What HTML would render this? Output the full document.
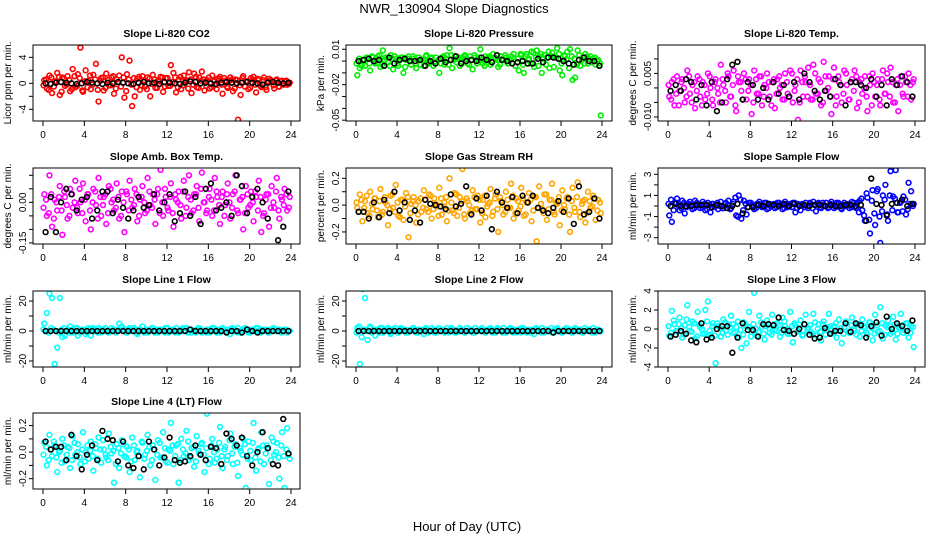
<!DOCTYPE html>
<html><head><meta charset="utf-8"><style>
html,body{margin:0;padding:0;background:#fff}
svg{display:block;font-family:"Liberation Sans",sans-serif}
</style></head><body>
<svg id="chart" width="936" height="540" viewBox="0 0 936 540">
<text x="454" y="13" font-size="13" text-anchor="middle">NWR_130904  Slope Diagnostics</text>
<text x="467" y="531" font-size="13" text-anchor="middle">Hour of Day (UTC)</text>
</svg>
<script>
const hourTicks=[0,4,8,12,16,20,24];
const co2Color=[0.5,-0.8,1.2,-1.5,0.3,1.6,-1.8,0.9,-0.4,1.1,-1.2,2.2,-0.6,1.4,5.5,-1.3,2.0,0.4,-0.9,1.3,3.0,-2.8,0.8,-1.1,1.5,-0.3,0.9,-1.6,0.6,1.2,4.0,-2.2,1.4,3.5,-3.5,-2.0,0.7,-1.0,1.1,-0.5,0.9,-2.0,1.3,-0.7,0.4,1.0,-1.3,0.8,-0.4,2.8,1.6,-1.4,0.6,-0.9,1.2,0.3,1.7,-1.5,1.5,-0.6,0.9,1.8,-1.1,0.5,-0.8,1.2,-0.3,0.7,1.0,-1.6,0.4,-0.7,0.9,-1.2,0.6,-5.6,-1.8,1.1,0.3,-0.9,0.8,1.0,-1.4,0.5,-0.6,0.9,-1.0,0.7,0.2,-0.8,0.6,-0.5,0.4,0.3,-0.2,0.1];
const co2Color2=[-0.3,0.6,-1.0,0.9,-0.5,0.2,1.0,-1.3,0.7,-0.2,0.5,-0.9,1.1,-0.4,0.8,-1.1,0.3,-0.6,1.2,-0.2,0.6,-1.0,0.4,0.9,-0.7,0.5,-0.3,1.1,-0.8,0.2,-0.5,0.9,-1.2,0.6,-0.2,0.8,-0.6,1.0,-0.3,0.5,-0.9,0.7,-0.1,0.6,-0.7,0.3,0.9,-0.5,0.8,-0.4,0.2,0.9,-0.6,1.0,-0.3,0.5,-0.8,0.6,-0.2,1.0,-0.7,0.4,0.6,-0.4,0.9,-0.6,0.3,-0.9,0.7,-0.2,0.8,-0.5,0.4,0.6,-0.8,0.5,-0.3,0.8,-0.5,0.3,-0.7,0.6,-0.2,0.7,-0.4,0.5,-0.6,0.3,0.5,-0.3,0.4,-0.5,0.3,-0.2,0.4,-0.1];
const co2Black=[0,-0.1,0.1,0.2,0.1,0,-0.1,0,0.2,0.1,0,-0.1,0.1,0,0.2,0.1,0,-0.1,0.1,0.2,0,0.1,-0.1,0.2,0.1,0,-0.1,0.1,0.3,0.2,0,0.1,0,-0.1,0.1,0.2,0.1,0,0.1,0.2,0.1,0,-0.2,0.1,0.2,0.1,0,0.1];
const presColor=[-0.012,-0.006,0.001,-0.004,0.002,-0.008,0.003,-0.002,0.004,-0.005,0.009,0.003,-0.001,0.005,-0.007,0.002,-0.004,0.003,-0.010,0.001,0.004,-0.003,0.002,-0.006,0.003,0.001,-0.004,0.005,-0.002,0.003,-0.001,-0.058,-0.010,0.003,-0.003,0.005,0.011,-0.006,0.004,0.002,-0.004,0.003,0.005,-0.002,0.004,-0.007,0.003,0.001,0.010,-0.002,0.004,0.003,-0.003,0.006,0.002,-0.005,0.004,0.001,0.003,-0.002,0.004,0.006,-0.060,-0.008,0.005,-0.010,0.006,0.002,0.008,-0.005,0.009,0.004,-0.010,0.005,0.003,-0.006,0.007,0.003,0.011,-0.008,-0.012,0.004,0.008,0.010,-0.016,-0.014,0.009,-0.004,0.003,0.006,-0.002,0.004,0.002,-0.003,0.001,-0.046];
const presColor2=[-0.002,0.002,-0.004,0.001,0.003,-0.002,0.004,-0.001,0.002,0.005,-0.003,0.001,0.003,-0.004,0.002,0.004,-0.002,0.001,0.003,-0.005,0.002,0.000,0.004,-0.002,0.003,-0.003,0.001,0.004,-0.001,0.002,-0.004,0.003,0.001,-0.002,0.004,0.002,-0.003,0.005,0.001,-0.001,0.003,-0.002,0.004,0.002,-0.003,0.001,0.005,-0.002,0.003,0.001,-0.004,0.002,0.004,-0.001,0.003,0.001,-0.003,0.002,0.005,-0.002,0.001,0.003,-0.004,0.002,0.006,-0.003,0.004,0.001,-0.002,0.007,0.003,-0.004,0.006,0.002,-0.003,0.008,0.004,-0.005,0.003,0.006,-0.002,0.005,0.001,-0.006,0.004,0.002,-0.003,0.005,0.001,-0.002,0.004,0.002,-0.001,0.003,0.000,-0.002];
const presBlack=[0,0.001,0.002,0,0.001,-0.004,0.003,-0.002,0.001,0.002,0,0,0.001,-0.004,0,-0.002,0.002,-0.001,0.001,0.004,-0.002,0,0.001,0,0.003,0.001,-0.001,0.005,0.001,0,-0.002,-0.001,0,-0.002,-0.002,0.002,-0.001,0.003,0.003,0.002,0,-0.002,-0.003,0.001,0.003,0,0,-0.004];
const tempColor=[-0.003,0.002,-0.006,0.004,-0.001,0.003,-0.005,0.006,-0.002,0.001,-0.007,0.004,-0.003,0.002,-0.004,0.005,0.000,-0.006,0.003,-0.002,0.008,0.001,-0.005,0.004,-0.003,0.006,-0.008,0.002,-0.001,0.005,-0.004,0.003,-0.009,0.006,-0.002,0.004,-0.006,0.001,0.005,-0.003,0.002,-0.007,0.003,0.000,-0.004,0.005,-0.002,0.006,-0.005,0.001,-0.011,0.006,-0.003,0.002,0.007,-0.004,0.008,-0.002,0.003,-0.006,0.009,-0.001,0.004,-0.009,0.007,-0.003,0.002,-0.005,0.006,0.001,-0.004,0.003,0.006,-0.007,0.002,-0.002,0.004,-0.008,0.001,0.005,-0.003,0.003,-0.006,0.006,-0.002,0.002,0.007,-0.005,0.001,-0.008,0.004,-0.003,0.002,0.005,-0.004,0.003];
const tempColor2=[0.001,-0.004,0.003,-0.002,-0.006,0.002,0.000,-0.003,0.004,-0.005,0.002,-0.001,0.003,-0.006,0.001,-0.002,0.004,-0.004,0.002,0.000,-0.005,0.003,-0.001,0.005,-0.003,0.001,-0.006,0.004,0.002,-0.004,0.003,-0.001,0.001,-0.005,0.003,-0.002,0.004,-0.003,0.000,0.002,-0.006,0.003,-0.002,0.004,0.001,-0.004,0.002,-0.003,0.005,-0.001,0.003,-0.005,0.002,0.004,-0.003,0.001,-0.004,0.005,-0.002,0.002,-0.005,0.004,0.000,-0.003,0.003,-0.006,0.004,0.001,-0.002,0.005,-0.004,0.002,-0.001,0.004,-0.005,0.003,0.000,-0.003,0.004,-0.006,0.002,0.001,-0.004,0.003,-0.002,0.005,-0.003,0.002,-0.005,0.003,0.001,-0.002,0.004,-0.003,0.001,0.002];
const tempBlack=[-0.001,0.001,-0.001,0.003,0.002,-0.004,0.001,-0.006,0.002,-0.008,-0.005,0.003,0.008,0.009,-0.004,0.002,0.001,-0.004,0,-0.004,0.002,-0.002,0.001,-0.003,0.002,-0.004,0.005,0.002,-0.001,-0.004,-0.001,-0.003,0.003,0.001,-0.006,0.002,0.002,0.001,0,0.003,-0.003,0.001,-0.006,0.003,0.001,0.004,0.002,-0.003];
const ambColor=[0.03,-0.05,0.10,-0.09,0.01,-0.03,0.06,-0.12,0.02,-0.06,0.05,-0.02,0.08,-0.04,0.00,0.07,-0.07,0.03,-0.10,0.05,-0.01,0.09,-0.05,0.02,-0.08,0.06,0.00,-0.03,0.07,-0.06,0.04,-0.11,0.03,0.08,-0.02,0.05,-0.07,0.01,0.06,-0.04,0.09,-0.01,0.03,-0.08,0.05,0.12,-0.05,0.02,-0.03,0.07,-0.09,0.01,0.04,-0.06,0.08,-0.02,0.10,-0.04,0.03,0.06,-0.07,0.11,0.00,-0.03,0.05,-0.05,0.09,0.02,-0.08,0.04,-0.01,0.07,-0.06,0.03,0.10,-0.04,0.01,-0.10,0.06,-0.02,0.04,-0.07,0.02,0.08,-0.11,-0.04,0.03,-0.09,0.06,-0.02,0.09,-0.06,0.01,0.05,-0.03,0.02];
const ambColor2=[-0.02,0.01,-0.04,0.03,-0.06,0.00,0.02,-0.03,0.04,-0.01,-0.05,0.03,0.00,-0.02,0.05,-0.04,0.01,0.03,-0.03,0.00,0.04,-0.06,0.02,-0.01,0.03,-0.04,0.05,0.01,-0.02,0.02,-0.05,0.00,0.04,-0.03,0.01,-0.01,0.03,-0.05,0.02,0.00,-0.03,0.04,-0.02,0.01,0.03,-0.04,0.00,0.05,-0.02,0.02,-0.04,0.03,0.00,-0.01,0.04,-0.05,0.02,0.01,-0.03,0.03,-0.02,0.05,0.00,-0.04,0.02,0.01,-0.03,0.04,-0.01,0.02,-0.05,0.03,0.00,-0.02,0.04,-0.03,0.01,0.02,-0.04,0.03,-0.01,0.00,0.04,-0.03,0.02,-0.05,0.01,0.03,-0.02,0.00,0.04,-0.03,0.02,-0.01,0.03,-0.02];
const ambBlack=[-0.11,0.02,-0.11,0.00,0.05,0.03,-0.03,0.01,0.02,-0.06,-0.03,0.04,0.04,-0.04,0.01,-0.02,-0.06,-0.03,0.02,-0.02,-0.01,0.03,-0.03,0.00,0.03,-0.07,-0.04,0.04,-0.05,0.02,-0.08,0.05,0.07,-0.03,-0.02,0.00,-0.05,0.10,0.06,-0.04,0.02,0.05,0.00,-0.06,-0.17,-0.14,-0.09,0.04];
const rhColor=[-0.02,0.08,-0.12,0.03,-0.06,0.10,-0.03,0.05,-0.09,0.12,-0.05,0.02,-0.15,0.07,-0.02,0.15,-0.08,0.04,-0.11,0.09,-0.24,0.01,0.06,-0.13,0.03,-0.05,0.11,-0.03,0.08,-0.10,0.05,-0.01,0.13,-0.07,0.02,-0.12,0.20,-0.04,0.09,-0.08,0.06,0.27,-0.10,0.03,-0.06,0.11,-0.03,0.07,-0.13,0.04,-0.09,0.01,0.12,-0.05,0.08,-0.20,0.03,-0.07,0.10,-0.02,0.16,-0.10,0.05,-0.04,0.13,-0.08,0.02,0.09,-0.12,0.06,-0.27,0.14,-0.03,0.08,-0.11,0.04,0.16,-0.07,0.01,-0.15,0.11,-0.03,0.06,-0.20,0.13,-0.05,0.17,-0.09,0.03,-0.13,0.10,-0.02,0.07,-0.11,0.04,-0.06];
const rhColor2=[0.02,-0.05,0.04,-0.02,0.07,-0.08,0.01,0.05,-0.04,0.03,-0.07,0.06,0.00,-0.03,0.08,-0.05,0.02,-0.09,0.04,-0.01,0.06,-0.06,0.03,0.00,-0.07,0.05,-0.02,0.04,-0.05,0.07,-0.03,0.01,-0.08,0.05,-0.01,0.06,-0.04,0.02,-0.06,0.08,-0.02,0.03,-0.07,0.05,0.00,-0.04,0.06,-0.03,0.04,-0.06,0.07,-0.01,0.02,-0.08,0.05,-0.03,0.06,0.00,-0.05,0.04,-0.02,0.07,-0.06,0.03,-0.01,0.05,-0.07,0.02,0.04,-0.04,0.06,-0.02,0.01,-0.06,0.08,-0.03,0.04,-0.05,0.02,0.06,-0.04,0.00,0.05,-0.07,0.03,-0.02,0.06,-0.05,0.01,0.04,-0.06,0.03,-0.01,0.05,-0.04,0.02];
const rhBlack=[-0.05,-0.05,-0.10,0.02,-0.09,0.04,-0.06,0.10,-0.04,0.02,-0.11,-0.04,-0.13,0.04,0.01,0.00,-0.01,-0.03,0.08,-0.01,0.01,0.14,-0.07,0.05,-0.04,0.07,-0.18,0.10,0.02,-0.02,0.06,-0.06,0.07,0.02,0.07,-0.02,-0.04,-0.06,-0.02,0.03,-0.05,0.05,-0.14,0.14,-0.07,-0.05,0.05,-0.10];
const flowColor=[-0.9,-1.5,0.3,0.7,-0.4,0.5,-0.7,0.2,0.4,-0.3,0.5,0.1,-0.2,0.4,-0.4,0.3,-0.6,0.2,0.1,-0.3,0.4,-0.2,0.3,0.5,-0.2,0.4,-0.9,1.0,-1.2,0.5,-0.8,0.3,0.1,-0.3,0.2,0.4,-0.1,0.3,-0.3,0.2,0.1,-0.2,0.3,0.1,-0.3,0.4,-0.1,0.2,0.3,-0.6,0.2,-0.4,0.1,0.3,-0.2,0.2,0.4,-0.5,0.3,-0.2,0.1,0.3,-0.1,0.4,-0.2,0.3,0.2,-0.3,0.3,0.1,-0.2,0.4,-0.1,0.3,0.5,-0.4,-1.4,0.8,-2.6,1.5,-1.8,1.6,-3.5,1.0,2.0,-1.4,3.3,0.9,3.4,-0.6,0.4,0.9,-0.8,2.2,1.4,0.2];
const flowColor2=[0.2,0.6,-0.4,0.3,0.0,-0.2,0.3,-0.1,0.2,0.0,-0.2,0.3,0.1,-0.1,0.2,-0.3,0.1,0.2,-0.1,0.3,0.0,-0.2,0.2,0.1,-0.3,0.2,0.8,-1.0,0.6,-0.4,0.2,-0.1,0.3,0.0,-0.2,0.2,0.1,-0.1,0.3,-0.2,0.0,0.2,-0.1,0.3,0.1,-0.2,0.2,0.0,-0.1,0.3,-0.2,0.1,0.2,-0.1,0.0,0.3,-0.2,0.1,0.2,-0.1,0.3,0.0,-0.2,0.2,0.1,-0.1,0.3,-0.2,0.1,0.0,0.2,-0.1,0.3,-0.2,-0.6,0.7,-0.9,1.2,-1.3,0.5,-0.7,1.4,-1.0,-0.5,0.6,-0.8,1.0,-0.4,0.7,-0.6,0.3,-0.5,0.6,-0.3,0.2,0.0];
const flowBlack=[0,0.2,0,0,0,0.1,0.1,0.1,-0.1,0.1,0,-0.2,0,0.2,-0.7,-0.1,-0.1,0.1,0,0.2,0.1,0,0.2,0,0.2,0,0.1,0,0.1,0.1,0,0.1,0,0,0.1,0.1,0,0.1,-1.4,2.6,0.2,0.1,-0.9,0.2,0.3,0.6,0,0.2];
const line1Color=[5,12,25,22,-22,-11,22,-4,-3,1,3,-1,2,-3,0,1,-2,2,-3,1,0,2,-1,1,0,-1,2,1,0,5,3,1,-1,2,0,1,-2,1,3,0,-1,1,2,0,-1,1,0,2,-1,0,1,2,-1,1,0,2,1,-1,0,1,2,-1,0,1,-1,2,0,1,-1,2,0,1,-2,1,0,2,-1,1,0,-1,1,0,2,-1,1,0,1,-1,0,1,0,1,0,1,-1,0];
const line1Color2=[1,0,-1,2,1,0,-1,1,2,0,-1,1,0,2,-1,1,0,-1,1,2,0,-1,1,0,2,-1,0,1,-1,1,2,0,-1,1,0,2,-1,1,0,-1,1,0,2,-1,1,0,1,-1,2,0,1,-1,0,1,2,0,-1,1,0,-1,2,1,0,-1,1,0,2,-1,1,0,1,-1,0,2,1,-1,0,1,2,0,-1,1,0,2,-1,1,0,-1,1,2,0,1,-1,0,1,0];
const line1Black=[0,0,0,0,0,0,0,0,0,0,0,0,0,0,0,0,0,0,0,0,0,0,0,0,0,0,0,0,1,0,0,0,0,0,0,-1,0,0,-1,1,0,-1,0,0,0,0,0,0];
const line2Color=[2,-22,28,22,-6,3,0,-3,1,2,-1,0,2,-2,1,0,-1,2,1,-1,0,1,2,-1,1,0,-2,1,0,2,-1,1,0,1,-1,2,0,1,-1,0,2,1,-1,0,1,-1,2,0,1,0,-1,1,2,0,-1,1,0,2,-1,0,1,1,-1,0,2,1,-1,0,1,-2,1,0,2,-1,1,0,-1,1,2,0,-1,1,0,1,-1,2,0,1,-1,0,1,0,2,-1,1,0];
const line2Color2=[-1,3,-4,1,0,2,-1,1,0,-1,2,0,1,-1,0,2,-1,1,0,1,-1,0,2,1,-1,0,1,2,-1,0,1,-1,2,0,1,0,-1,2,1,-1,0,1,-1,2,0,1,-1,0,1,2,-1,0,1,-1,0,2,1,-1,0,1,2,-1,0,1,-1,2,0,1,-1,0,2,1,-1,0,1,0,2,-1,1,0,-1,1,2,0,-1,1,0,1,-1,2,0,1,-1,0,1,0];
const line2Black=[0,0,0,0,0,0,0,0,0,0,0,0,0,0,0,0,0,0,0,0,0,0,0,0,0,0,0,0,0,0,0,0,0,0,0,0,0,0,-1,0,0,0,0,0,0,0,0,0];
const line3Color=[-0.7,1.9,0.5,-0.3,1.2,-0.9,0.4,2.5,-0.2,0.8,-1.0,1.8,0.2,-0.5,2.0,2.9,-0.6,0.6,-3.6,0.3,-0.8,1.0,-0.2,0.5,1.4,-0.4,0.2,-0.9,-2.0,0.7,-1.5,1.8,-0.3,3.8,-0.7,1.4,0.2,-1.1,0.9,-0.4,1.5,-0.1,0.6,-0.8,1.2,0.3,-0.5,1.8,-1.4,0.4,-0.2,0.9,-0.6,1.5,0.1,-0.3,1.6,-0.7,0.5,-1.2,0.8,-0.1,1.6,-0.5,0.3,-0.9,1.0,-1.5,0.2,0.6,-0.4,1.2,-0.2,0.5,-0.8,1.0,0.1,-0.6,0.7,-1.2,1.5,-0.3,2.3,-1.0,0.4,0.9,-0.5,1.3,-1.1,0.2,1.6,-0.4,0.6,-0.9,0.3,-1.9];
const line3Color2=[0.3,-0.4,0.9,-0.2,0.5,0.1,-0.6,1.0,0.2,-0.3,0.6,-0.8,0.4,0.0,-0.5,0.8,-0.2,0.3,-0.7,0.6,0.1,-0.4,0.7,-0.6,0.2,0.5,-0.3,0.8,-0.1,-0.6,0.4,0.2,-0.8,0.5,0.0,-0.3,0.7,-0.5,0.3,0.1,-0.6,0.5,-0.2,0.4,-0.4,0.8,0.0,-0.5,0.3,0.6,-0.3,0.1,-0.7,0.5,-0.1,0.4,-0.5,0.7,0.0,-0.3,0.5,-0.6,0.2,0.3,-0.4,0.6,-0.2,0.1,-0.5,0.8,-0.3,0.4,0.0,-0.6,0.5,-0.2,0.3,-0.4,0.7,0.1,-0.5,0.4,-0.2,0.6,-0.6,0.2,0.3,-0.3,0.5,-0.5,0.1,0.4,-0.2,0.6,-0.4,0.2];
const line3Black=[-0.8,-0.6,-0.2,-0.5,-1.2,-1.4,0.6,-1.1,-0.9,0,0.3,0.3,-2.5,-0.9,0.6,-0.1,-0.1,-0.8,0.5,0.5,0.4,1.2,-0.1,-0.2,-0.5,0,0.5,-0.6,-1.0,-0.9,0.1,-0.5,-0.2,-0.2,0.6,-0.3,0.6,0.4,-0.9,0.3,0.7,-0.7,1.3,0,0.6,0.3,-0.2,0.9];
const line4Color=[0.07,-0.10,0.13,-0.03,0.05,-0.15,0.01,0.10,-0.07,0.04,-0.12,0.12,-0.02,0.06,-0.09,0.15,0.00,-0.05,0.08,-0.14,0.03,0.11,-0.08,0.02,-0.04,0.14,-0.01,-0.23,0.06,-0.12,0.09,-0.03,0.04,-0.15,0.11,-0.06,0.01,-0.19,0.07,-0.02,0.13,-0.10,0.05,-0.21,0.09,-0.04,0.15,-0.07,0.02,0.22,-0.09,0.05,-0.23,0.10,-0.03,0.16,-0.06,0.03,-0.11,0.12,-0.01,0.07,-0.15,0.29,-0.05,0.10,-0.08,0.02,0.19,-0.12,0.04,-0.03,0.14,-0.09,0.06,-0.18,0.01,0.10,-0.27,0.08,-0.06,0.22,-0.14,0.03,0.15,-0.09,0.05,-0.24,0.11,-0.02,0.07,-0.20,0.15,-0.27,0.18,-0.05];
const line4Color2=[-0.02,0.04,-0.06,0.02,0.08,-0.04,0.00,-0.08,0.05,-0.02,0.03,-0.06,0.07,0.00,-0.04,0.02,-0.07,0.05,0.01,-0.03,0.06,-0.05,0.02,0.09,-0.02,-0.06,0.04,0.01,-0.09,0.03,-0.01,0.06,-0.04,0.02,-0.07,0.05,0.00,-0.03,0.08,-0.05,0.01,0.04,-0.06,0.02,-0.02,0.07,-0.04,0.03,-0.08,0.01,0.05,-0.03,0.06,-0.06,0.02,-0.01,0.08,-0.04,0.04,-0.07,0.01,0.06,-0.02,0.03,-0.09,0.05,0.00,-0.05,0.07,-0.03,0.02,-0.06,0.09,-0.01,0.04,-0.08,0.03,-0.02,0.06,-0.05,0.01,0.07,-0.04,0.02,-0.07,0.05,-0.01,0.03,-0.06,0.08,0.00,-0.04,0.05,-0.03,0.02,-0.02];
const line4Black=[0.08,0.02,0.04,0.04,-0.06,0.13,-0.03,-0.13,-0.02,0.05,-0.06,0.16,0.10,0.09,-0.07,0.08,-0.10,-0.12,-0.03,-0.13,0.08,0.02,-0.10,-0.04,0.11,-0.06,-0.08,-0.07,-0.03,0.05,-0.02,-0.06,0.04,0.03,-0.09,0.14,0.10,0.05,0.11,-0.03,-0.10,0.00,0.15,0.03,-0.09,-0.10,0.25,-0.01];
const co2Ticks=[-4,-2,0,2,4], co2Labels=["-4","","0","","4"];
const presTicks=[0.01,0,-0.01,-0.02,-0.03,-0.04,-0.05], presLabels=["0.01","","","-0.02","","","-0.05"];
const tempTicks=[0.01,0.005,0,-0.005,-0.01], tempLabels=["","0.005","","","-0.010"];
const ambTicks=[0.10,0.05,0,-0.05,-0.10,-0.15], ambLabels=["","","0.00","","","-0.15"];
const rhTicks=[0.2,0.1,0,-0.1,-0.2], rhLabels=["0.2","","0.0","","-0.2"];
const flowTicks=[3,2,1,0,-1,-2,-3], flowLabels=["3","","1","","-1","","-3"];
const lineTicks=[20,10,0,-10,-20], lineLabels=["20","","0","","-20"];
const line3Ticks=[4,2,0,-2,-4], line3Labels=["4","2","0","-2","-4"];
const line4Ticks=[0.2,0.1,0,-0.1,-0.2], line4Labels=["0.2","","0.0","","-0.2"];

const NS="http://www.w3.org/2000/svg";
const svg=document.getElementById('chart');
const cols=[{l:33,r:300,x0:43,x24:291},{l:346,r:612,x0:356,x24:602},{l:658,r:925,x0:668,x24:915}];
const rows=[{t:45,b:121},{t:168,b:244},{t:291,b:367},{t:413,b:489}];
const panels=[
{name:'co2',title:'Slope Li-820 CO2',ylab:'Licor ppm per min.',c:0,r:0,ymax:5.9,ymin:-5.8,color:'#ff0000',col:co2Color,col2:co2Color2,blk:co2Black,ticks:co2Ticks,labels:co2Labels},
{name:'pressure',title:'Slope Li-820 Pressure',ylab:'kPa per min.',c:1,r:0,ymax:0.0136,ymin:-0.0507,color:'#00ee00',col:presColor,col2:presColor2,blk:presBlack,ticks:presTicks,labels:presLabels},
{name:'temp',title:'Slope Li-820 Temp.',ylab:'degrees C per min.',c:2,r:0,ymax:0.0148,ymin:-0.0114,color:'#ff00ff',col:tempColor,col2:tempColor2,blk:tempBlack,ticks:tempTicks,labels:tempLabels},
{name:'amb-box-temp',title:'Slope Amb. Box Temp.',ylab:'degrees C per min.',c:0,r:1,ymax:0.127,ymin:-0.154,color:'#ff00ff',col:ambColor,col2:ambColor2,blk:ambBlack,ticks:ambTicks,labels:ambLabels},
{name:'gas-stream-rh',title:'Slope Gas Stream RH',ylab:'percent per min.',c:1,r:1,ymax:0.277,ymin:-0.29,color:'#ffa500',col:rhColor,col2:rhColor2,blk:rhBlack,ticks:rhTicks,labels:rhLabels},
{name:'sample-flow',title:'Slope Sample Flow',ylab:'ml/min per min.',c:2,r:1,ymax:3.6,ymin:-3.6,color:'#0000ff',col:flowColor,col2:flowColor2,blk:flowBlack,ticks:flowTicks,labels:flowLabels},
{name:'line1-flow',title:'Slope Line 1 Flow',ylab:'ml/min per min.',c:0,r:2,ymax:26.7,ymin:-24,color:'#00ffff',col:line1Color,col2:line1Color2,blk:line1Black,ticks:lineTicks,labels:lineLabels},
{name:'line2-flow',title:'Slope Line 2 Flow',ylab:'ml/min per min.',c:1,r:2,ymax:26.7,ymin:-24,color:'#00ffff',col:line2Color,col2:line2Color2,blk:line2Black,ticks:lineTicks,labels:lineLabels},
{name:'line3-flow',title:'Slope Line 3 Flow',ylab:'ml/min per min.',c:2,r:2,ymax:4,ymin:-4,color:'#00ffff',col:line3Color,col2:line3Color2,blk:line3Black,ticks:line3Ticks,labels:line3Labels},
{name:'line4-flow',title:'Slope Line 4 (LT) Flow',ylab:'ml/min per min.',c:0,r:3,ymax:0.295,ymin:-0.278,color:'#00ffff',col:line4Color,col2:line4Color2,blk:line4Black,ticks:line4Ticks,labels:line4Labels}
];
function mk(tag,attrs,parent){const e=document.createElementNS(NS,tag);for(const k in attrs)e.setAttribute(k,attrs[k]);parent.appendChild(e);return e;}
panels.forEach(p=>{
  const C=cols[p.c],R=rows[p.r];
  const g=mk('g',{},svg);
  
  
  const xs=h=>C.x0+(C.x24-C.x0)*h/24;
  const ys=v=>R.t+(p.ymax-v)/(p.ymax-p.ymin)*(R.b-R.t);
  const clip='clip-'+p.name;
  const cp=mk('clipPath',{id:clip},g);
  mk('rect',{x:C.l,y:R.t,width:C.r-C.l,height:R.b-R.t},cp);
  const t=mk('text',{x:(C.l+C.r)/2,y:R.t-8,'font-size':'10.5','font-weight':'bold','text-anchor':'middle'},g);
  t.textContent=p.title;
  
  
  const yl=mk('text',{transform:`translate(${C.l-22},${(R.t+R.b)/2}) rotate(-90)`,'font-size':'10','text-anchor':'middle'},g);
  yl.textContent=p.ylab;
  
  
  hourTicks.forEach(h=>{
    const x=xs(h);
    mk('line',{x1:x,x2:x,y1:R.b,y2:R.b+5,stroke:'#000','stroke-width':1},g);
    const tl=mk('text',{x:x,y:R.b+17,'font-size':'10','text-anchor':'middle'},g);
    tl.textContent=h;
    
    
  });
  p.ticks.forEach((v,i)=>{
    const y=ys(v);
    mk('line',{x1:C.l-4,x2:C.l,y1:y,y2:y,stroke:'#000','stroke-width':1},g);
    if(p.labels[i]){
      const tl=mk('text',{transform:`translate(${C.l-7},${y}) rotate(-90)`,'font-size':'10','text-anchor':'middle'},g);
      tl.textContent=p.labels[i];
      
      
    }
  });
  const pts=mk('g',{'clip-path':`url(#${clip})`,fill:'none'},g);
  p.col2.forEach((v,i)=>{
    const c=mk('circle',{cx:xs(i*24/p.col2.length+0.05),cy:ys(v),r:2.4,stroke:p.color,'stroke-width':1.6},pts);
    
    
  });
  p.col.forEach((v,i)=>{
    const c=mk('circle',{cx:xs((i+0.5)*24/p.col.length),cy:ys(v),r:2.4,stroke:p.color,'stroke-width':1.6},pts);
    
    
  });
  p.blk.forEach((v,i)=>{
    const c=mk('circle',{cx:xs((i+0.5)*24/p.blk.length),cy:ys(v),r:2.4,stroke:'#000','stroke-width':1.6},pts);
    
    
  });
  const box=mk('rect',{x:C.l,y:R.t,width:C.r-C.l,height:R.b-R.t,fill:'none',stroke:'#000','stroke-width':1},g);
  
  
});
</script>
</body></html>
